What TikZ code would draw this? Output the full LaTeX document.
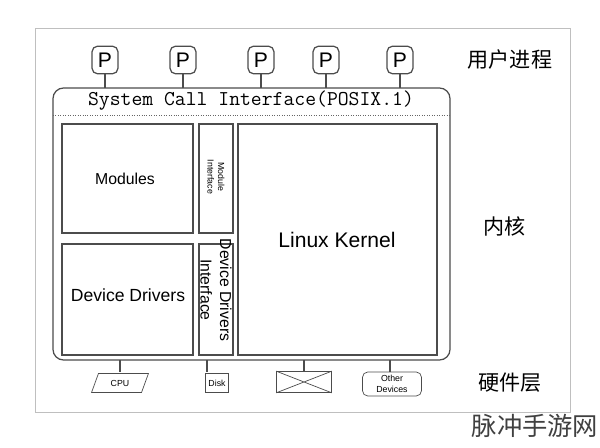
\documentclass[tikz,border=0pt]{standalone}
\usepackage{fontspec}
\setmainfont{Liberation Sans}
\newfontfamily\cjk{Noto Sans CJK SC}
\usetikzlibrary{shapes.geometric}
\tikzset{
	box/.style={draw=black!70, line width=0.7pt},
	proc/.style={draw=black!70, line width=0.7pt, rounded corners=3pt, minimum width=0.5cm, minimum height=0.55cm, font=\large},
	link/.style={draw=black!70, line width=0.7pt},
	side/.style={font=\cjk\large}
}
\begin{document}
\begin{tikzpicture}[x=0.02cm, y=-0.02cm]
	% frame
	\useasboundingbox (0,0) rectangle (600,448);
	\draw[black!25] (35,28) rectangle (570,412);
	% main box
	\draw[box, rounded corners=6pt] (53,88) rectangle (450,360);
	\node[font=\ttfamily\large] (sci) at (251,101) {System Call Interface(POSIX.1)};
	\draw[black!60, densely dotted] (53,115) -- (450,115);
	% processes
	\foreach \x/\n in {105/p1,183/p2,261/p3,326/p4,400/p5}{
		\node[proc] (\n) at (\x,60) {P};
		\coordinate (\n b) at (\x,88);
		\draw[link] (\n) -- (\n b);
	}
	% inner blocks
	\draw[box] (62,124) rectangle (193,233);
	\node[font=\small] (mod) at (125,179) {Modules};
	\draw[box] (199,124) rectangle (233,233);
	\node[rotate=-90, font=\tiny, align=center, inner sep=0pt] (mi) at (216,177) {Module\\Interface};
	\draw[box] (238,124) rectangle (437,355);
	\node[font=\large] (lk) at (337,240) {Linux Kernel};
	\draw[box] (62,244) rectangle (193,355);
	\node (dd) at (128,295) {Device Drivers};
	\draw[box] (199,244) rectangle (233,355);
	\node[rotate=-90, align=center, inner sep=0pt, font=\small] (ddi) at (216,290) {Device Drivers\\Interface};
	% hardware
	\node[draw=black!70, trapezium, trapezium left angle=70, trapezium right angle=110, minimum width=1.1cm, minimum height=0.38cm, inner sep=1pt, font=\tiny] (cpu) at (120,383) {CPU};
	\node[draw=black!70, minimum width=0.46cm, minimum height=0.38cm, inner sep=1pt, font=\tiny] (disk) at (217,383) {Disk};
	\node[draw=black!70, minimum width=1.1cm, minimum height=0.42cm] (net) at (304,382) {};
	\draw[black!70] (net.north west) -- (net.south east) (net.south west) -- (net.north east);
	\node[draw=black!70, rounded corners=3pt, minimum width=1.18cm, minimum height=0.48cm, inner sep=1pt, font=\tiny, align=center] (oth) at (392,384) {Other\\Devices};
	\foreach \x/\n in {120/cpu,207/disk,304/net,390/oth}{
		\coordinate (\n t) at (\x,360);
		\draw[link] (\n t) -- (\x,372);
	}
	% side labels
	\node[side] (user) at (510,60) {用户进程};
	\node[side] (kern) at (505,226) {内核};
	\node[side] (hw) at (510,383) {硬件层};
	\node[font=\cjk\Large, text=black!75] (wm) at (535,426) {脉冲手游网};
\end{tikzpicture}
\end{document}
